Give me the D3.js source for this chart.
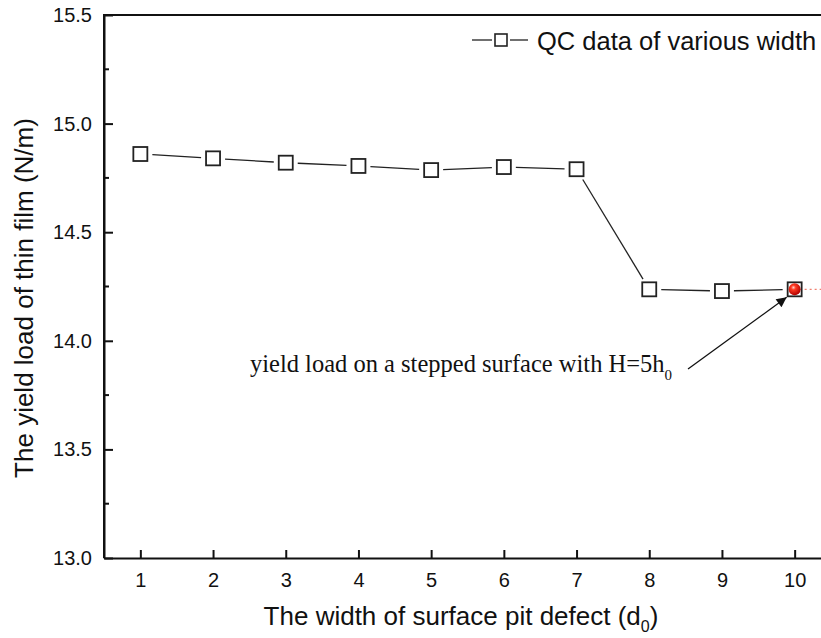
<!DOCTYPE html>
<html>
<head>
<meta charset="utf-8">
<script src="https://cdn.jsdelivr.net/npm/d3@7"></script>
<style>
  body { margin: 0; background: #fff; }
  text { fill: #111; }
</style>
</head>
<body>
<div id="chart"></div>
<script>
const widths = [1, 2, 3, 4, 5, 6, 7, 8, 9, 10];
const yieldLoad = [14.86, 14.84, 14.82, 14.805, 14.786, 14.80, 14.79, 14.237, 14.229, 14.237];
const steppedWidth = 10;
const steppedLoad = 14.237;
const yTicks = [13.0, 13.5, 14.0, 14.5, 15.0, 15.5];

const W = 821, H = 638;
const plotL = 104, plotT = 15, plotR = 831, plotB = 558;
const sans = 'Liberation Sans, Arial, sans-serif';

const svg = d3.select('#chart').append('svg')
    .attr('width', W)
    .attr('height', H);

const x = d3.scaleLinear().domain([0.5, 10.5]).range([plotL, plotR]);
const y = d3.scaleLinear().domain([13, 15.5]).range([plotB, plotT]);

const defs = svg.append('defs');
const grad = defs.append('radialGradient')
    .attr('id', 'ball').attr('cx', '40%').attr('cy', '35%').attr('r', '65%');
grad.append('stop').attr('offset', '0%').attr('stop-color', '#ffd0c8');
grad.append('stop').attr('offset', '30%').attr('stop-color', '#ff3a22');
grad.append('stop').attr('offset', '100%').attr('stop-color', '#b00000');

defs.append('marker')
    .attr('id', 'arrow')
    .attr('viewBox', '0 0 10 10')
    .attr('refX', 10).attr('refY', 5)
    .attr('markerWidth', 17).attr('markerHeight', 10)
    .attr('markerUnits', 'userSpaceOnUse')
    .attr('orient', 'auto')
    .append('path')
    .attr('d', 'M0,0 L10,5 L0,10 Z')
    .attr('fill', '#111');

// frame
svg.append('path')
    .attr('d', `M${plotL},${plotB} L${plotL},${plotT} L${plotR},${plotT}`)
    .attr('fill', 'none').attr('stroke', '#111').attr('stroke-width', 2);

// x axis
const xAxis = svg.append('g')
    .attr('transform', `translate(0,${plotB})`)
    .call(d3.axisBottom(x).tickValues(widths).tickSize(-8).tickSizeOuter(0).tickPadding(15));
xAxis.select('.domain').attr('stroke-width', 2).attr('stroke', '#111');
xAxis.selectAll('.tick line').attr('stroke-width', 2).attr('stroke', '#111');
xAxis.selectAll('text').attr('font-family', sans).attr('font-size', 20).attr('fill', '#111');

// y axis
const yAxis = svg.append('g')
    .attr('transform', `translate(${plotL},0)`)
    .call(d3.axisLeft(y).tickValues(yTicks).tickFormat(d3.format('.1f')).tickSize(-9).tickSizeOuter(0).tickPadding(12));
yAxis.select('.domain').attr('stroke-width', 2).attr('stroke', '#111');
yAxis.selectAll('.tick line').attr('stroke-width', 2).attr('stroke', '#111');
yAxis.selectAll('text').attr('font-family', sans).attr('font-size', 20).attr('fill', '#111');

const minorY = d3.range(13.25, 15.5, 0.5);
svg.append('g').selectAll('line')
    .data(minorY)
    .join('line')
    .attr('x1', plotL).attr('x2', plotL + 5)
    .attr('y1', d => y(d)).attr('y2', d => y(d))
    .attr('stroke', '#111').attr('stroke-width', 2);

// axis titles
const xt = svg.append('text')
    .attr('x', 461).attr('y', 625)
    .attr('text-anchor', 'middle')
    .attr('font-family', sans).attr('font-size', 26);
xt.append('tspan').text('The width of surface pit defect (d');
xt.append('tspan').attr('font-size', 16).attr('dy', 7).text('0');
xt.append('tspan').attr('dy', -7).text(')');

svg.append('text')
    .attr('transform', 'translate(33,298) rotate(-90)')
    .attr('text-anchor', 'middle')
    .attr('font-family', sans).attr('font-size', 26)
    .text('The yield load of thin film (N/m)');

// data line with gaps
const pts = widths.map((w, i) => [x(w), y(yieldLoad[i])]);
const gap = 12;
const segs = d3.pairs(pts).map(([a, b]) => {
    const dx = b[0] - a[0], dy = b[1] - a[1];
    const len = Math.hypot(dx, dy);
    const ux = dx / len, uy = dy / len;
    return [a[0] + ux * gap, a[1] + uy * gap, b[0] - ux * gap, b[1] - uy * gap];
});
svg.append('g').selectAll('line')
    .data(segs)
    .join('line')
    .attr('x1', d => d[0]).attr('y1', d => d[1])
    .attr('x2', d => d[2]).attr('y2', d => d[3])
    .attr('stroke', '#222').attr('stroke-width', 1.3);

// stepped surface reference
svg.append('line')
    .attr('x1', x(steppedWidth)).attr('x2', W)
    .attr('y1', y(steppedLoad)).attr('y2', y(steppedLoad))
    .attr('stroke', '#f08070').attr('stroke-width', 1.2)
    .attr('stroke-dasharray', '2,3');

const ms = 14;
svg.append('g').selectAll('rect')
    .data(pts)
    .join('rect')
    .attr('x', d => d[0] - ms / 2).attr('y', d => d[1] - ms / 2)
    .attr('width', ms).attr('height', ms)
    .attr('fill', '#fff').attr('stroke', '#222').attr('stroke-width', 1.8);

svg.append('circle')
    .attr('cx', x(steppedWidth)).attr('cy', y(steppedLoad))
    .attr('r', 6)
    .attr('fill', 'url(#ball)');

// annotation
svg.append('line')
    .attr('x1', 688).attr('y1', 369)
    .attr('x2', x(steppedWidth) - 8).attr('y2', y(steppedLoad) + 8)
    .attr('stroke', '#111').attr('stroke-width', 1.3)
    .attr('marker-end', 'url(#arrow)');

const ann = svg.append('text')
    .attr('x', 250).attr('y', 372)
    .attr('font-family', 'Liberation Serif, Times New Roman, serif').attr('font-size', 24.5);
ann.append('tspan').text('yield load on a stepped surface with H=5h');
ann.append('tspan').attr('font-size', 15).attr('dy', 8).text('0');

// legend
const lg = svg.append('g');
lg.append('line').attr('x1', 472).attr('x2', 492).attr('y1', 40).attr('y2', 40)
    .attr('stroke', '#222').attr('stroke-width', 1.3);
lg.append('line').attr('x1', 510).attr('x2', 528).attr('y1', 40).attr('y2', 40)
    .attr('stroke', '#222').attr('stroke-width', 1.3);
lg.append('rect').attr('x', 495).attr('y', 34).attr('width', 12).attr('height', 12)
    .attr('fill', '#fff').attr('stroke', '#222').attr('stroke-width', 1.6);
lg.append('text')
    .attr('x', 537).attr('y', 50)
    .attr('font-family', sans).attr('font-size', 25.5)
    .text('QC data of various width');
</script>
</body>
</html>
